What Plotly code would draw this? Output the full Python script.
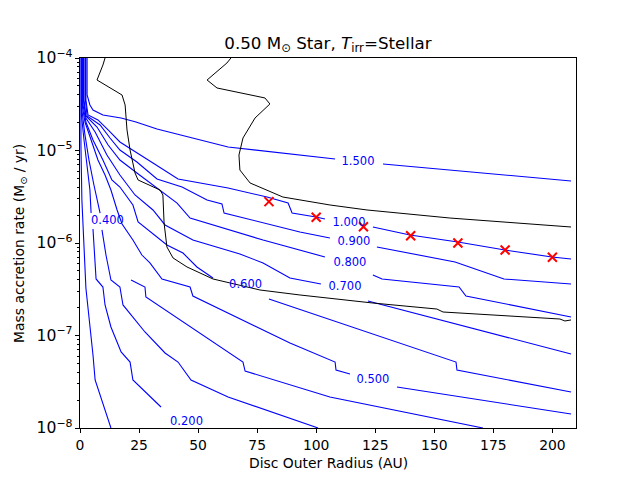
import plotly.graph_objects as go

# contour lines: radius (AU) and log10 of accretion rate (Msun/yr)
# None marks a gap where matplotlib cut the line for its label
r_150 = [3.0, 3.0, 4.2, 5.5, 9.7, 17.4, 23.7, 32.6, 62.7, 93.1, 108.0, None, 128.3, 156.6, 191.8, 207.9]
m_150 = [-4.0, -4.400, -4.508, -4.562, -4.616, -4.649, -4.692, -4.768, -4.962, -5.049, -5.092, None, -5.146, -5.211, -5.297, -5.330]

r_100 = [2.5, 2.5, 3.4, 7.6, 11.9, 16.9, 30.9, 41.5, 62.7, 79.2, 88.1, 89.8, 99.9, 103.7, None, 124.0, 139.7, 160.0, 179.9, 199.8, 207.9]
m_100 = [-4.0, -4.454, -4.616, -4.670, -4.778, -4.908, -5.135, -5.308, -5.405, -5.503, -5.568, -5.676, -5.719, -5.741, None, -5.827, -5.914, -5.989, -6.076, -6.151, -6.173]

r_090 = [2.3, 2.3, 3.0, 8.5, 12.7, 16.9, 24.1, 32.6, 43.2, 53.8, 60.1, 61.0, 93.1, 105.8, None, 125.7, 158.8, 179.5, 207.9]
m_090 = [-4.0, -4.454, -4.627, -4.724, -4.865, -4.995, -5.124, -5.308, -5.395, -5.535, -5.578, -5.676, -5.881, -5.946, None, -6.043, -6.205, -6.389, -6.443]

r_080 = [1.7, 1.7, 2.5, 7.2, 11.9, 16.9, 24.1, 35.1, 41.1, 46.6, 67.7, 77.5, 103.7, None, 124.0, 127.9, 160.5, 163.4, 207.9]
m_080 = [-4.0, -4.454, -4.627, -4.746, -4.941, -5.103, -5.243, -5.449, -5.568, -5.730, -5.892, -5.968, -6.151, None, -6.346, -6.389, -6.476, -6.573, -6.800]

r_070 = [1.5, 1.5, 2.5, 6.4, 11.4, 16.9, 23.3, 30.9, 36.0, 47.8, 67.7, 77.5, 88.9, 102.0, None, 121.9, 207.9]
m_070 = [-4.0, -4.454, -4.649, -4.800, -5.049, -5.265, -5.481, -5.643, -5.805, -5.968, -6.119, -6.216, -6.378, -6.443, None, -6.627, -7.200]

r_060 = [1.3, 1.3, 2.5, 5.5, 9.7, 13.5, 16.9, 22.4, 24.6, 36.8, 43.6, 49.5, 56.3, None, 80.0, 88.9, 159.2, 159.6, 207.9]
m_060 = [-4.0, -4.508, -4.692, -4.886, -5.103, -5.319, -5.395, -5.589, -5.773, -6.022, -6.108, -6.259, -6.378, None, -6.605, -6.681, -7.287, -7.373, -7.611]

r_050 = [1.1, 1.1, 2.1, 4.7, 7.6, 10.6, 13.1, 15.7, 17.8, 22.4, 26.2, 29.6, 34.7, 46.6, 47.8, 88.9, 99.5, 108.0, 108.4, 114.3, None, 134.2, 207.9]
m_050 = [-4.0, -4.541, -4.692, -4.886, -5.103, -5.265, -5.427, -5.643, -5.795, -5.968, -6.130, -6.216, -6.389, -6.476, -6.573, -7.081, -7.200, -7.287, -7.373, -7.416, None, -7.557, -7.849]

r_040 = [21.6, 27.5, 27.9, 46.6, 69.0, 69.9, 105.8, 170.6]
m_040 = [-6.400, -6.476, -6.584, -6.908, -7.287, -7.384, -7.665, -8.0]

r_030 = [0.8, 0.8, 2.1, 3.8, 5.9, 7.6, 8.5, None, 9.3, 11.0, 13.1, 16.9, 18.2, 27.5, 36.0, 41.5, 47.0, 62.7, 100.8]
m_030 = [-4.0, -4.562, -4.832, -5.103, -5.373, -5.589, -5.676, None, -5.859, -6.130, -6.400, -6.476, -6.670, -6.962, -7.189, -7.287, -7.481, -7.665, -8.0]

r_020 = [0.6, 0.6, 1.7, 3.0, 4.2, 4.7, None, 5.5, 6.8, 9.7, 10.6, 13.1, 17.4, 21.2, 22.4, 34.3]
m_020 = [-4.0, -4.616, -4.886, -5.157, -5.427, -5.676, None, -5.849, -6.389, -6.476, -6.670, -6.908, -7.178, -7.287, -7.481, -7.773]

r_010 = [0.4, 0.4, 0.8, 1.7, 2.5, 5.5, 6.4, 13.1]
m_010 = [-4.0, -4.941, -5.535, -6.130, -6.486, -7.211, -7.481, -8.0]

# black boundary curves
r_blk1 = [10.6, 9.7, 7.2, 17.8, 19.1, 19.9, 21.2, 23.3, 24.6, 33.9, 35.1, 35.6, 36.8, 39.4, 45.3, 56.3,
          76.2, 93.1, 124.0, 151.1, 153.7, 187.6, 203.2, 205.3, 207.9]
m_blk1 = [-4.0, -4.076, -4.238, -4.400, -4.508, -4.778, -4.995, -5.243, -5.319, -5.427, -5.481, -5.784,
          -6.043, -6.162, -6.259, -6.389, -6.508, -6.562, -6.649, -6.714, -6.746, -6.800, -6.822, -6.843, -6.832]

r_blk2 = [63.9, 62.2, 53.8, 58.0, 78.3, 80.4, 74.1, 69.0, 67.3, 67.7, 72.0, 85.9, 105.8, 121.5, 156.6, 207.9]
m_blk2 = [-4.0, -4.054, -4.238, -4.324, -4.432, -4.497, -4.649, -4.865, -5.049, -5.211, -5.351, -5.503,
          -5.589, -5.643, -5.730, -5.827]

# red crosses
disc_r = [80, 100, 120, 140, 160, 180, 200]
disc_mdot = [2.8e-6, 1.9e-6, 1.5e-6, 1.2e-6, 1.0e-6, 8.4e-7, 7.0e-7]

# inline contour labels
lab_text = ["1.500", "1.000", "0.900", "0.800", "0.700", "0.600", "0.500", "0.400", "0.200"]
lab_r = [117.7, 113.9, 116.0, 114.3, 112.2, 70.1, 124.0, 11.6, 45.1]
lab_m = [-5.124, -5.784, -5.989, -6.216, -6.476, -6.454, -7.481, -5.762, -7.935]


def unlog(vals):
    return [None if v is None else 10 ** v for v in vals]


fig = go.Figure()

blue = [(r_150, m_150), (r_100, m_100), (r_090, m_090), (r_080, m_080), (r_070, m_070),
        (r_060, m_060), (r_050, m_050), (r_040, m_040), (r_030, m_030), (r_020, m_020),
        (r_010, m_010)]
for r, m in blue:
    fig.add_trace(go.Scatter(x=r, y=unlog(m), mode="lines", connectgaps=False,
                             line=dict(color="#0000ff", width=1.1), hoverinfo="skip"))

for r, m in [(r_blk1, m_blk1), (r_blk2, m_blk2)]:
    fig.add_trace(go.Scatter(x=r, y=unlog(m), mode="lines",
                             line=dict(color="black", width=1.0), hoverinfo="skip"))

fig.add_trace(go.Scatter(x=disc_r, y=disc_mdot, mode="markers",
                         marker=dict(symbol="x-thin", size=9, line=dict(color="red", width=2))))

fig.add_trace(go.Scatter(x=lab_r, y=unlog(lab_m), mode="text", text=lab_text,
                         textfont=dict(family="DejaVu Sans", size=11.5, color="#0000ff"),
                         textposition="middle center"))

# page body adds an 8px offset, so the figure is drawn 8px smaller
fig.update_layout(
    width=632, height=472,
    margin=dict(l=72, r=64, t=50, b=52, autoexpand=False),
    paper_bgcolor="white", plot_bgcolor="white",
    showlegend=False,
    font=dict(family="DejaVu Sans", size=13.9, color="black"),
    title=dict(text="0.50 M<sub>⊙</sub> Star, <i>T</i><sub>irr</sub>=Stellar",
               x=0.5063, xanchor="center", y=0.926, yanchor="middle",
               font=dict(size=16.7)),
)

fig.update_xaxes(range=[0, 210], tickvals=[0, 25, 50, 75, 100, 125, 150, 175, 200],
                 showgrid=False, zeroline=False, showline=True, mirror=True,
                 linecolor="black", linewidth=1, ticks="outside", ticklen=4,
                 tickcolor="black", tickfont=dict(size=13.9), automargin=False)
fig.update_yaxes(type="log", range=[-8, -4], dtick=1, exponentformat="power",
                 showgrid=False, zeroline=False, showline=True, mirror=True,
                 linecolor="black", linewidth=1, ticks="outside", ticklen=4,
                 tickcolor="black", tickfont=dict(size=12.5), automargin=False,
                 minor=dict(ticks="outside", ticklen=2, tickcolor="black", dtick="D1",
                            showgrid=False))

fig.add_annotation(text="Disc Outer Radius (AU)", xref="paper", yref="paper",
                   x=0.5, y=-0.095, xanchor="center", yanchor="middle",
                   showarrow=False, font=dict(size=13.9))
fig.add_annotation(text="Mass accretion rate (M<sub>⊙</sub> / yr)", xref="paper", yref="paper",
                   x=-0.121, y=0.5, xanchor="center", yanchor="middle", textangle=-90,
                   showarrow=False, font=dict(size=13.9))

fig.write_html("out.html")
